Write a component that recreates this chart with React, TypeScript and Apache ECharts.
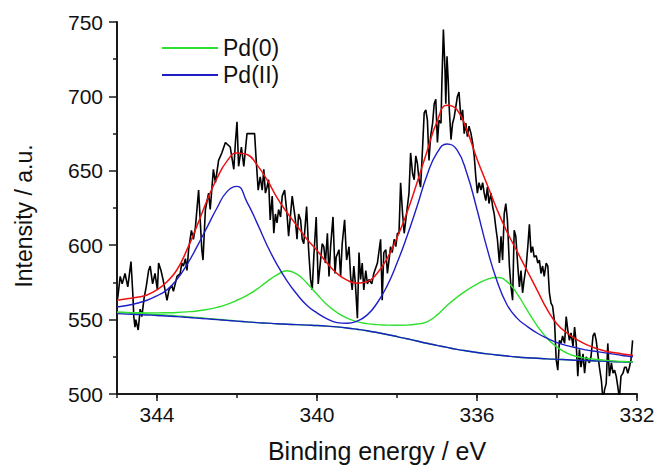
import React, { useEffect, useRef } from "react";
import * as echarts from "echarts";

// ---- Raw XPS spectrum (binding energy in eV, intensity in a.u.) ----
const rawBE = [
  345.0, 344.98, 344.92, 344.87, 344.8, 344.73, 344.65, 344.6, 344.58, 344.55, 344.53, 344.47, 344.42, 344.38,
  344.32, 344.27, 344.21, 344.17, 344.11, 344.05, 343.99, 343.96, 343.9, 343.85, 343.8, 343.75, 343.7, 343.63,
  343.59, 343.5, 343.42, 343.38, 343.34, 343.29, 343.25, 343.21, 343.14, 343.09, 343.04, 342.96, 342.92, 342.88,
  342.85, 342.79, 342.71, 342.67, 342.59, 342.54, 342.46, 342.38, 342.29, 342.17, 342.08, 342.04, 342.0, 341.96,
  341.89, 341.83, 341.75, 341.71, 341.56, 341.52, 341.47, 341.42, 341.37, 341.33, 341.29, 341.25, 341.21, 341.17,
  341.12, 341.08, 341.04, 341.0, 340.96, 340.91, 340.87, 340.81, 340.75, 340.71, 340.62, 340.54, 340.5, 340.46,
  340.41, 340.37, 340.33, 340.26, 340.21, 340.16, 340.12, 340.08, 340.02, 339.97, 339.91, 339.87, 339.83, 339.79,
  339.74, 339.7, 339.66, 339.6, 339.55, 339.52, 339.45, 339.41, 339.37, 339.31, 339.26, 339.2, 339.16, 339.12,
  339.08, 339.04, 338.99, 338.95, 338.91, 338.87, 338.83, 338.78, 338.74, 338.7, 338.63, 338.58, 338.49, 338.41,
  338.37, 338.33, 338.28, 338.24, 338.2, 338.16, 338.12, 338.07, 338.03, 337.99, 337.95, 337.91, 337.86, 337.82,
  337.78, 337.74, 337.7, 337.66, 337.61, 337.57, 337.53, 337.49, 337.45, 337.41, 337.36, 337.32, 337.28, 337.24,
  337.2, 337.16, 337.11, 337.07, 337.03, 336.99, 336.95, 336.9, 336.88, 336.84, 336.8, 336.78, 336.75, 336.72,
  336.7, 336.65, 336.61, 336.57, 336.53, 336.49, 336.45, 336.4, 336.36, 336.32, 336.28, 336.24, 336.2, 336.15,
  336.11, 336.07, 336.03, 335.99, 335.95, 335.9, 335.86, 335.82, 335.78, 335.74, 335.7, 335.65, 335.61, 335.57,
  335.53, 335.49, 335.44, 335.4, 335.36, 335.32, 335.28, 335.24, 335.19, 335.15, 335.11, 335.07, 335.03, 334.98,
  334.94, 334.9, 334.86, 334.82, 334.77, 334.73, 334.69, 334.65, 334.61, 334.57, 334.52, 334.48, 334.44, 334.4,
  334.36, 334.32, 334.27, 334.23, 334.19, 334.15, 334.11, 334.06, 334.02, 333.98, 333.94, 333.9, 333.86, 333.81,
  333.77, 333.73, 333.69, 333.65, 333.6, 333.56, 333.52, 333.48, 333.44, 333.4, 333.35, 333.31, 333.27, 333.23,
  333.19, 333.15, 333.1, 333.06, 333.02, 332.98, 332.94, 332.89, 332.85, 332.81, 332.77, 332.73, 332.69, 332.64,
  332.6, 332.56, 332.52, 332.48, 332.44, 332.4, 332.35, 332.31, 332.27, 332.23, 332.19, 332.15, 332.11,
];
const rawCounts = [
  563, 565, 579, 574, 581, 572, 589, 565, 552, 545, 550, 543, 557, 552,
  565, 572, 583, 586, 574, 581, 570, 588, 583, 577, 570, 563, 570, 573,
  569, 579, 581, 588, 586, 591, 583, 597, 610, 604, 612, 637, 617, 597,
  590, 624, 635, 624, 651, 642, 657, 662, 669, 666, 651, 669, 683, 653,
  666, 653, 675, 675, 675, 657, 637, 646, 637, 651, 635, 639, 644, 617,
  633, 608, 621, 615, 624, 619, 633, 637, 621, 606, 633, 617, 604, 621,
  617, 604, 601, 626, 597, 577, 570, 592, 619, 574, 590, 601, 599, 588,
  608, 579, 599, 619, 581, 592, 597, 579, 601, 617, 590, 599, 579, 570,
  586, 574, 551, 595, 577, 588, 570, 583, 574, 577, 574, 581, 588, 604,
  563, 595, 597, 581, 590, 599, 595, 604, 599, 608, 608, 642, 621, 608,
  617, 626, 635, 662, 648, 644, 660, 655, 644, 639, 666, 689, 691, 684,
  657, 673, 682, 695, 698, 669, 684, 682, 707, 745, 718, 695, 727, 711,
  695, 671, 682, 686, 693, 700, 703, 684, 691, 675, 682, 673, 680, 675,
  669, 660, 646, 635, 642, 637, 642, 635, 630, 639, 628, 635, 626, 621,
  612, 604, 588, 606, 590, 621, 628, 617, 586, 572, 563, 610, 606, 586,
  572, 583, 568, 577, 586, 599, 614, 595, 599, 592, 593, 588, 590, 581,
  586, 579, 588, 586, 568, 561, 559, 548, 523, 516, 536, 534, 539, 534,
  552, 543, 536, 541, 532, 545, 534, 512, 530, 518, 527, 514, 525, 523,
  521, 525, 539, 541, 536, 527, 518, 509, 496, 503, 507, 534, 512, 521,
  514, 516, 512, 505, 497, 512, 514, 518, 518, 514, 518, 523, 536,
];

// ---- Fitted curves, sampled every 0.25 eV ----
const fitBE = [
  345, 344.75, 344.5, 344.25, 344, 343.75, 343.5, 343.25, 343, 342.75, 342.5, 342.25, 342, 341.75,
  341.5, 341.25, 341, 340.75, 340.5, 340.25, 340, 339.75, 339.5, 339.25, 339, 338.75, 338.5, 338.25,
  338, 337.75, 337.5, 337.25, 337, 336.75, 336.5, 336.25, 336, 335.75, 335.5, 335.25, 335, 334.75,
  334.5, 334.25, 334, 333.75, 333.5, 333.25, 333, 332.75, 332.5, 332.25, 332.1,
];
const envelopeFit = [
  563, 564, 565, 566.5, 570, 575.5, 583.5, 597, 613, 630, 645, 656.5, 662, 661,
  654, 644, 632, 622, 613, 604, 596.5, 588, 581, 576.5, 574.5, 575.5, 581, 591,
  605, 622, 642, 663, 683, 694, 691, 677, 658, 641, 624, 609, 596, 583,
  570, 557, 547, 541, 536.5, 533, 530.5, 528.5, 527.5, 526.5, 526,
];
const pd2Fit = [
  558.5, 559.5, 561, 563, 566, 570, 577, 587, 599, 612, 625, 636, 639.5, 629,
  615, 600, 587, 576, 567, 559.5, 554.5, 550.5, 548, 547.5, 549, 553, 561, 572.5,
  588, 606, 626, 647, 662, 668, 664, 648, 624, 598, 576, 560, 551, 545.5,
  541, 537.5, 534.5, 532.5, 531, 529.5, 528.5, 527.5, 526.5, 525.5, 525,
];
const pd0Fit = [
  555, 554.8, 554.6, 554.5, 554.5, 554.6, 554.8, 555.2, 555.8, 556.8, 558.2, 560.2, 563, 566.3,
  570.5, 575.5, 580, 582.8, 580.5, 574.5, 567, 560, 554.8, 551, 548.6, 547.3, 546.6, 546.3,
  546.2, 546.3, 547, 548.5, 553, 559.5, 565, 569.8, 573.8, 577, 578.3, 575.5, 567.5, 556.5,
  546, 537.5, 531.5, 527.5, 525.2, 524, 523.2, 522.6, 522.1, 521.7, 521.5,
];
const pd0Background = [
  555, 554.6, 554.2, 553.8, 553.4, 553, 552.5, 552, 551.4, 550.8, 550.2, 549.6, 549, 548.5,
  548, 547.6, 547.2, 546.9, 546.6, 546.3, 546, 545.6, 545.1, 544.4, 543.5, 542.5, 541.3, 540,
  538.6, 537.1, 535.6, 534.1, 532.7, 531.3, 530, 528.9, 527.9, 527, 526.2, 525.5, 524.9, 524.4,
  524, 523.6, 523.3, 523, 522.7, 522.5, 522.2, 522, 521.7, 521.5, 521.3,
];
const pd2Background = [
  554, 553.7, 553.4, 553.1, 552.8, 552.4, 552, 551.5, 551, 550.5, 550, 549.5, 549, 548.5,
  548, 547.6, 547.2, 546.9, 546.6, 546.3, 546, 545.6, 545.1, 544.4, 543.5, 542.5, 541.3, 540,
  538.6, 537.1, 535.6, 534.1, 532.7, 531.3, 530, 528.9, 527.9, 527, 526.2, 525.5, 524.9, 524.4,
  524, 523.6, 523.3, 523, 522.7, 522.5, 522.2, 522, 521.7, 521.5, 521.3,
];

// ---- Axes ----
const xMin = 332;
const xMax = 345;
const xMajor = 4;
const xMinor = 2;
const yMin = 500;
const yMax = 750;
const yMajor = 50;

const legendNames = ["Pd(0)", "Pd(II)"];

const GREEN = "#2ee02e";
const BLUE = "#1e1ec8";
const RED = "#ee1111";
const AXIS = "#1a1a1a";

function pairs(xs: number[], ys: number[]) {
  return xs.map((x, i) => [x, ys[i]]);
}

function lineSeries(name: string, xs: number[], ys: number[], color: string, width: number, smooth: boolean, z: number) {
  return {
    type: "line",
    name,
    data: pairs(xs, ys),
    xAxisIndex: 0,
    yAxisIndex: 0,
    showSymbol: false,
    symbol: "none",
    smooth: smooth ? 0.5 : false,
    clip: true,
    z,
    itemStyle: { color },
    lineStyle: { color, width },
    emphasis: { disabled: true },
  };
}

export default function App() {
  const ref = useRef<HTMLDivElement>(null);

  useEffect(() => {
    document.body.style.margin = "0";
    if (!ref.current) return;
    const chart = echarts.init(ref.current, null, { renderer: "svg" });
    const font = "'Liberation Sans', Arial, sans-serif";
    chart.setOption({
      animation: false,
      backgroundColor: "#ffffff",
      grid: { left: 117, right: 21, top: 22, bottom: 71, outerBoundsMode: "none" },
      legend: {
        orient: "vertical",
        left: 157,
        top: 31,
        itemWidth: 56,
        itemHeight: 2,
        itemGap: 3,
        icon: "rect",
        selectedMode: false,
        data: legendNames,
        textStyle: { fontFamily: font, fontSize: 23, color: "#111111", lineHeight: 24 },
      },
      xAxis: [
        {
          type: "value",
          min: xMin,
          max: xMax,
          interval: xMajor,
          inverse: true,
          position: "bottom",
          name: "Binding energy / eV",
          nameLocation: "middle",
          nameGap: 44,
          nameTextStyle: { fontFamily: font, fontSize: 25, color: "#111111" },
          axisLine: { show: true, onZero: false, lineStyle: { color: AXIS, width: 2 } },
          axisTick: { show: true, length: 7, lineStyle: { color: AXIS, width: 1.5 } },
          axisLabel: {
            margin: 10,
            fontFamily: font,
            fontSize: 21,
            color: "#111111",
            showMaxLabel: false,
            formatter: (v: number) => (v % xMajor === 0 ? String(v) : ""),
          },
          splitLine: { show: false },
        },
        {
          type: "value",
          min: xMin,
          max: xMax,
          interval: xMinor,
          inverse: true,
          position: "bottom",
          axisLine: { show: false, onZero: false },
          axisTick: { show: true, length: 4, lineStyle: { color: AXIS, width: 1.5 } },
          axisLabel: { show: false },
          splitLine: { show: false },
        },
      ],
      yAxis: {
        type: "value",
        min: yMin,
        max: yMax,
        interval: yMajor,
        name: "Intensity / a.u.",
        nameLocation: "middle",
        nameRotate: 90,
        nameGap: 82,
        nameTextStyle: { fontFamily: font, fontSize: 23, color: "#111111", padding: [0, 16, 0, 0] },
        axisLine: { show: true, onZero: false, lineStyle: { color: AXIS, width: 2 } },
        axisTick: { show: true, length: 8, lineStyle: { color: AXIS, width: 1.5 } },
        minorTick: { show: true, splitNumber: 2, length: 4, lineStyle: { color: AXIS, width: 1.5 } },
        axisLabel: { margin: 14, fontFamily: font, fontSize: 21, color: "#111111" },
        splitLine: { show: false },
        minorSplitLine: { show: false },
      },
      series: [
        lineSeries("Raw data", rawBE, rawCounts, "#000000", 1.6, false, 1),
        lineSeries("Pd(0) background", fitBE, pd0Background, GREEN, 1.4, true, 2),
        lineSeries("Pd(II) background", fitBE, pd2Background, BLUE, 1.4, true, 3),
        lineSeries("Pd(0)", fitBE, pd0Fit, GREEN, 1.4, true, 4),
        lineSeries("Pd(II)", fitBE, pd2Fit, BLUE, 1.4, true, 5),
        lineSeries("Envelope", fitBE, envelopeFit, RED, 1.5, true, 6),
      ],
    });
    return () => chart.dispose();
  }, []);

  return <div ref={ref} style={{ width: 658, height: 465 }} />;
}
